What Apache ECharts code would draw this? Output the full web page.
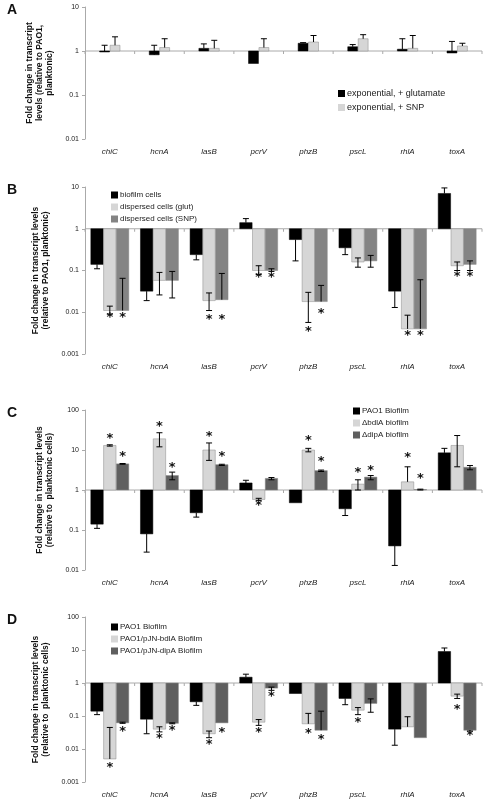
<!DOCTYPE html>
<html><head><meta charset="utf-8">
<script src="https://cdn.jsdelivr.net/npm/echarts@6/dist/echarts.min.js"></script>
<style>body{margin:0}#c{width:485px;height:800px}</style></head>
<body><div id="c"></div>
<script>
const categories=['chiC','hcnA','lasB','pcrV','phzB','pscL','rhlA','toxA'];
// Panel A
const aGlut=[0.95,0.82,1.15,0.52,1.5,1.25,1.1,0.9];
const aGlutErr=[[0.95,1.35],[0.82,1.35],[1.15,1.45],null,[1.5,1.55],[1.25,1.4],[1.1,1.9],[0.9,1.65]];
const aSnp=[1.35,1.2,1.15,1.2,1.6,1.9,1.15,1.3];
const aSnpErr=[[1.35,2.1],[1.2,1.9],[1.15,1.75],[1.2,1.9],[1.6,2.25],[1.9,2.35],[1.15,2.25],[1.3,1.5]];
// Panel B
const bBio=[0.14,0.032,0.24,1.4,0.55,0.35,0.032,7];
const bBioErr=[[0.11,0.14],[0.019,0.032],[0.18,0.24],[1.4,1.75],[0.17,0.55],[0.24,0.35],[0.013,0.032],[7,9.5]];
const bGlut=[0.011,0.058,0.019,0.1,0.018,0.16,0.004,0.13];
const bGlutErr=[[0.009,0.014],[0.026,0.09],[0.011,0.029],[0.08,0.13],[0.0057,0.03],[0.12,0.2],[0.004,0.0085],[0.1,0.16]];
const bGlutStar=[0.0075,null,0.0068,0.068,0.0035,null,0.0028,0.072];
const bSnp=[0.011,0.058,0.02,0.1,0.018,0.17,0.004,0.14];
const bSnpErr=[[0.011,0.065],[0.022,0.095],[0.02,0.085],[0.095,0.11],[0.018,0.044],[0.12,0.23],[0.004,0.06],[0.1,0.17]];
const bSnpStar=[0.0075,null,0.0068,0.068,0.0095,null,0.0028,0.072];
// Panel C
const cPao=[0.14,0.08,0.27,1.5,0.48,0.34,0.04,8.5];
const cPaoErr=[[0.11,0.14],[0.028,0.08],[0.21,0.27],[1.5,1.75],[0.48,0.48],[0.23,0.34],[0.013,0.04],[8.5,11]];
const cBdl=[13,19,10,0.58,10,1.4,1.6,13];
const cBdlErr=[[12.5,13.5],[12,27],[5.5,15],[0.55,0.62],[9,11],[1,1.8],[1.6,3.8],[3.8,23]];
const cBdlStar=[19,38,21,0.4,17,2.7,6.5,null];
const cDip=[4.5,2.3,4.3,1.95,3.05,2.1,1.03,3.7];
const cDipErr=[[4.4,4.6],[1.8,2.8],[4.1,4.4],[1.8,2.05],[2.9,3.15],[1.8,2.3],[1,1.05],[3.2,4.1]];
const cDipStar=[7,3.6,6.8,null,5.2,3,1.9,null];
// Panel D
const dPao=[0.14,0.08,0.27,1.5,0.48,0.34,0.04,9];
const dPaoErr=[[0.11,0.14],[0.029,0.08],[0.21,0.27],[1.5,1.85],[0.48,0.48],[0.22,0.34],[0.013,0.04],[9,11.5]];
const dBdl=[0.005,0.04,0.029,0.065,0.058,0.15,0.047,0.4];
const dBdlErr=[[0.005,0.045],[0.033,0.047],[0.022,0.035],[0.052,0.078],[0.058,0.12],[0.11,0.18],[0.047,0.095],[0.34,0.46]];
const dBdlStar=[0.0028,0.021,0.0135,0.032,0.03,0.062,null,0.16];
const dDip=[0.062,0.06,0.062,0.7,0.037,0.24,0.022,0.037];
const dDipErr=[[0.06,0.065],[0.058,0.062],[0.062,0.062],[0.6,0.75],[0.037,0.14],[0.13,0.33],[0.022,0.022],[0.035,0.037]];
const dDipStar=[0.034,0.036,0.031,0.4,0.019,null,null,0.025];

const panels=[
 {label:'A',top:7,bottom:139,min:0.01,max:10,yname:'Fold change in transcript\nlevels (relative to PAO1,\nplanktonic)',
  names:['exponential, + glutamate','exponential, + SNP'],colors:['#000','#d6d6d6'],
  vals:[aGlut,aSnp],errs:[aGlutErr,aSnpErr],stars:[null,null],bw:0.2,
  legend:{left:333,top:84}},
 {label:'B',top:187,bottom:354,min:0.001,max:10,yname:'Fold change in transcript levels\n(relative to PAO1, planktonic)',
  names:['biofilm cells','dispersed cells (glut)','dispersed cells (SNP)'],colors:['#000','#d6d6d6','#848484'],
  vals:[bBio,bGlut,bSnp],errs:[bBioErr,bGlutErr,bSnpErr],stars:[null,bGlutStar,bSnpStar],bw:0.25,
  legend:{left:106,top:186}},
 {label:'C',top:410,bottom:570,min:0.01,max:100,yname:'Fold change in transcript levels\n(relative to  planktonic cells)',
  names:['PAO1 Biofilm','ΔbdlA biofilm','ΔdipA biofilm'],colors:['#000','#d6d6d6','#5f5f5f'],
  vals:[cPao,cBdl,cDip],errs:[cPaoErr,cBdlErr,cDipErr],stars:[null,cBdlStar,cDipStar],bw:0.25,
  legend:{left:348,top:402}},
 {label:'D',top:617,bottom:782,min:0.001,max:100,yname:'Fold change in transcript levels\n(relative to  planktonic cells)',
  names:['PAO1 Biofilm','PAO1/pJN-bdlA Biofilm','PAO1/pJN-dipA Biofilm'],colors:['#000','#d6d6d6','#5f5f5f'],
  vals:[dPao,dBdl,dDip],errs:[dPaoErr,dBdlErr,dDipErr],stars:[null,dBdlStar,dDipStar],bw:0.25,
  legend:{left:106,top:618}}
];
const grid=[],xAxis=[],yAxis=[],series=[],legend=[],graphic=[];
panels.forEach((p,pi)=>{
  grid.push({left:85,right:3,top:p.top,height:p.bottom-p.top});
  xAxis.push({type:'category',gridIndex:pi,data:categories,boundaryGap:true,
    axisLine:{show:false},axisTick:{show:false},
    axisLabel:{fontStyle:'italic',fontSize:8,color:'#222',margin:9,fontFamily:'Liberation Sans'}});
  yAxis.push({type:'log',logBase:10,gridIndex:pi,min:p.min,max:p.max,splitLine:{show:false},
    axisLine:{show:true,lineStyle:{color:'#aaa'}},axisTick:{show:true,length:3,lineStyle:{color:'#aaa'}},
    axisLabel:{fontSize:7,color:'#222',margin:6,fontFamily:'Liberation Sans'},
    name:p.yname,nameLocation:'middle',nameGap:p.label==='A'?26:30,nameRotate:90,
    nameTextStyle:{fontSize:8.5,fontWeight:'bold',color:'#111',lineHeight:10,fontFamily:'Liberation Sans'}});
  const n=p.vals.length;
  // baseline at 1
  series.push({type:'custom',xAxisIndex:pi,yAxisIndex:pi,data:categories.map((c,i)=>i),z:1,
    renderItem:(params,api)=>{const i=api.value(0);const c=api.coord([i,1]);const w=api.size([1,0])[0];
      const ch=[{type:'line',shape:{x1:c[0]-w/2,y1:c[1],x2:c[0]+w/2,y2:c[1]},style:{stroke:'#aaa',lineWidth:1}},
        {type:'line',shape:{x1:c[0]+w/2,y1:c[1],x2:c[0]+w/2,y2:c[1]+3},style:{stroke:'#aaa',lineWidth:1}}];
      if(i===0)ch.push({type:'line',shape:{x1:c[0]-w/2,y1:c[1],x2:c[0]-w/2,y2:c[1]+3},style:{stroke:'#aaa',lineWidth:1}});
      return {type:'group',children:ch};}});
  p.vals.forEach((vals,si)=>{
    const errs=p.errs[si],stars=p.stars[si];
    series.push({type:'custom',name:p.names[si],xAxisIndex:pi,yAxisIndex:pi,z:3,
      itemStyle:{color:p.colors[si]},
      data:vals.map((v,i)=>[i,v]),
      renderItem:(params,api)=>{
        const i=api.value(0),v=api.value(1);
        const w=api.size([1,0])[0];const bw=w*p.bw;
        const cx=api.coord([i,1])[0]+(si-(n-1)/2)*bw*(n===2?1.05:1.03);
        const y1=api.coord([i,1])[1],yv=api.coord([i,v])[1];
        const ch=[{type:'rect',shape:{x:cx-bw/2,y:Math.min(y1,yv),width:bw,height:Math.abs(y1-yv)},
          style:{fill:p.colors[si],stroke:si===0?'#000':'#888',lineWidth:0.5}}];
        const e=errs[i];
        if(e){const ya=api.coord([i,e[0]])[1],yb=api.coord([i,e[1]])[1];
          const st={stroke:'#000',lineWidth:1};
          ch.push({type:'line',shape:{x1:cx,y1:ya,x2:cx,y2:yb},style:st});
          if(e[1]!==v)ch.push({type:'line',shape:{x1:cx-3,y1:yb,x2:cx+3,y2:yb},style:st});
          if(e[0]!==v)ch.push({type:'line',shape:{x1:cx-3,y1:ya,x2:cx+3,y2:ya},style:st});}
        if(stars&&stars[i]!=null){const ys=api.coord([i,stars[i]])[1];
          ch.push({type:'text',x:cx,y:ys,style:{text:'*',fontSize:13,fontWeight:'bold',fill:'#111',align:'center',verticalAlign:'middle',fontFamily:'DejaVu Sans'}});}
        return {type:'group',children:ch};}});
  });
  legend.push({orient:'vertical',left:p.legend.left,top:p.legend.top,itemWidth:7,itemHeight:7,itemGap:p.label==='A'?5:4,
    icon:'rect',data:p.names,textStyle:{fontSize:p.label==='A'?9:8,color:'#222',fontFamily:'Liberation Sans',padding:[0,0,0,-3]},
    selectedMode:false});
  graphic.push({type:'text',left:7,top:p.top-4,style:{text:p.label,fontSize:14,fontWeight:'bold',fill:'#111',fontFamily:'Liberation Sans'}});
});
const chart=echarts.init(document.getElementById('c'));
chart.setOption({animation:false,backgroundColor:'#fff',grid,xAxis,yAxis,series,legend,graphic});
</script></body></html>
